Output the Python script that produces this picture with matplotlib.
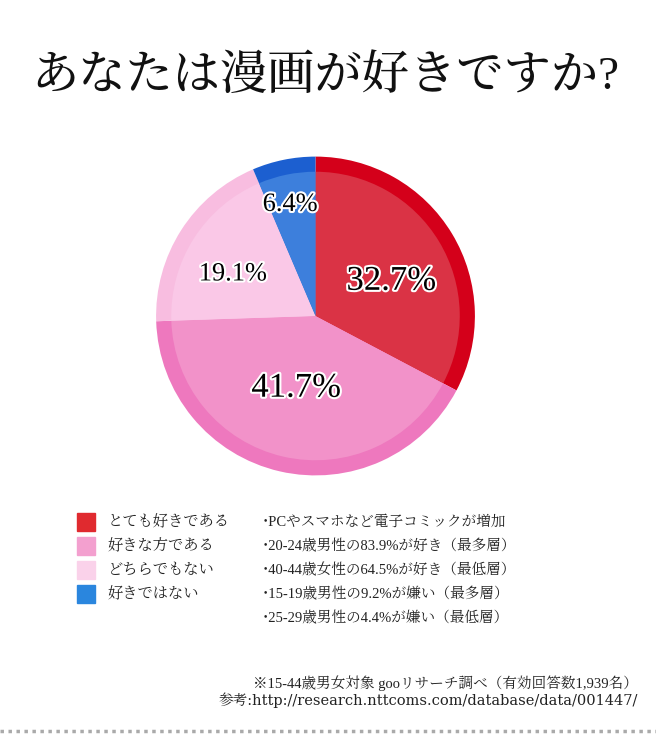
import numpy as np
import matplotlib.pyplot as plt
import matplotlib.patheffects as pe
from matplotlib.lines import Line2D

plt.rcParams['font.family'] = ['Liberation Serif', 'Noto Serif CJK JP', 'Noto Sans CJK JP', 'DejaVu Sans']

title = 'あなたは漫画が好きですか?'
categories = ['とても好きである', '好きな方である', 'どちらでもない', '好きではない']
shares = [32.7, 41.7, 19.1, 6.4]
notes = [
    '･PCやスマホなど電子コミックが増加',
    '･20-24歳男性の83.9%が好き（最多層）',
    '･40-44歳女性の64.5%が好き（最低層）',
    '･15-19歳男性の9.2%が嫌い（最多層）',
    '･25-29歳男性の4.4%が嫌い（最低層）',
]
footnote = ['※15-44歳男女対象 gooリサーチ調べ（有効回答数1,939名）',
            '参考:http://research.nttcoms.com/database/data/001447/']

outer_colors = ['#d4001a', '#ee78be', '#f8bde0', '#1c5fd0']
inner_colors = ['#da3345', '#f292c9', '#fac8e7', '#3d7fdc']
legend_colors = ['#e02a2f', '#f3a0cf', '#fad2ea', '#2a86de']

W, H = 656, 734
fig = plt.figure(figsize=(W / 100, H / 100), dpi=100)

# pie axes: centre (315.5, 316) px, radius 161 px
cx, cy, r = 315.5, 316, 161
ax = fig.add_axes([(cx - r) / W, 1 - (cy + r) / H, 2 * r / W, 2 * r / H])
wedges, _ = ax.pie(shares, colors=outer_colors, startangle=90, counterclock=False,
                   radius=1.0, wedgeprops=dict(linewidth=0))
ax.pie(shares, colors=inner_colors, startangle=90, counterclock=False,
       radius=0.905, wedgeprops=dict(linewidth=0))
ax.set_xlim(-1.01, 1.01)
ax.set_ylim(-1.01, 1.01)
ax.set_aspect('equal')
ax.axis('off')

# label placement (radius, angle in degrees) and size
label_r = [0.523, 0.469, 0.580, 0.715]
label_ang = [24.6, -105.0, 153.3, 102.9]
label_size = [25, 25, 19, 19]
for val, lr, la, fs in zip(shares, label_r, label_ang, label_size):
    a = np.deg2rad(la)
    ax.text(lr * np.cos(a), lr * np.sin(a), f'{val}%', ha='center', va='center',
            fontsize=fs, color='black', family=['Liberation Serif'],
            path_effects=[pe.withStroke(linewidth=3, foreground='white')])

fig.text(325 / W, 1 - 77 / H, title, ha='center', va='center', fontsize=34,
         color='#111111', fontweight='medium')

# legend
for i, (cat, col) in enumerate(zip(categories, legend_colors)):
    y = 522 + 24 * i
    fig.patches.append(plt.Rectangle((77 / W, 1 - (y + 9) / H), 18 / W, 18 / H,
                                     transform=fig.transFigure, color=col))
    fig.text(108 / W, 1 - y / H, cat, ha='left', va='center', fontsize=11, color='#222222')

for i, n in enumerate(notes):
    y = 522 + 24 * i
    fig.text(262 / W, 1 - y / H, n, ha='left', va='center', fontsize=10.5, color='#222222')

fig.text(638 / W, 1 - 683 / H, footnote[0], ha='right', va='center', fontsize=10.5, color='#222222')
fig.text(638 / W, 1 - 700 / H, footnote[1], ha='right', va='center', fontsize=10.5, color='#222222',
         family=['DejaVu Serif', 'Noto Serif CJK JP'])

fig.lines.append(Line2D([0, 1], [1 - 731 / H] * 2, transform=fig.transFigure,
                        color='#aaaaaa', linewidth=2.5, linestyle=(0, (1, 1.3))))

fig.savefig('out.png', dpi=100, facecolor='white')
